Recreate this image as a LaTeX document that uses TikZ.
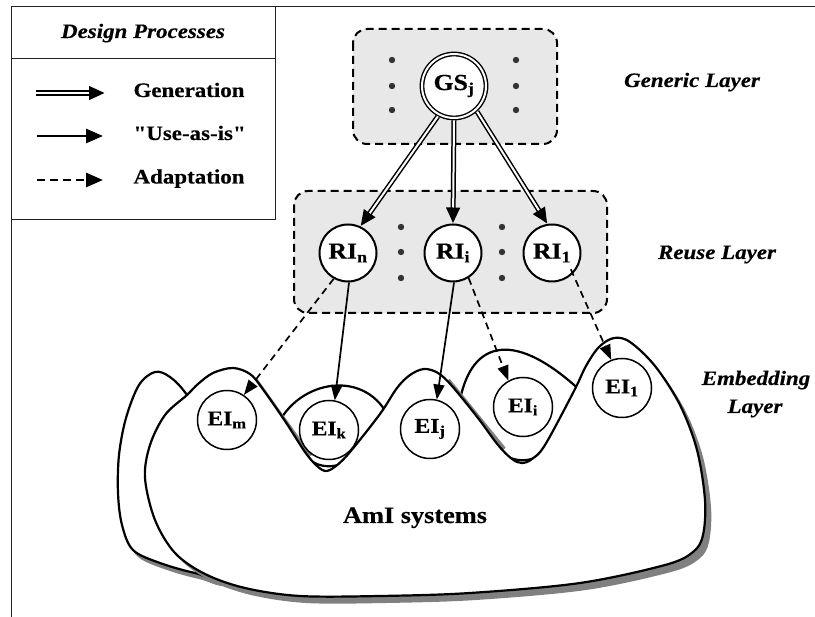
\documentclass[tikz,border=0pt]{standalone}
\usepackage{fontspec}
\setmainfont{Liberation Serif}[FakeStretch=1.12, BoldFeatures={FakeBold=0.4}, BoldItalicFeatures={FakeBold=0.4}]
\newfontfamily\straightquotes{Liberation Serif}[FakeStretch=1.12, BoldFeatures={FakeBold=0.4}]
\usetikzlibrary{arrows.meta}

\definecolor{boxgray}{HTML}{E8E8E8}
\definecolor{shadowgray}{HTML}{808080}
\definecolor{dotgray}{HTML}{333333}
\definecolor{framegray}{HTML}{222222}

\tikzset{
  frameline/.style={draw=framegray, line width=1pt},
  layerbox/.style={draw=black, fill=boxgray, line width=2pt,
    dash pattern=on 8pt off 5pt, rounded corners=14pt},
  gsnode/.style={circle, draw, fill=white, line width=1.4pt, double,
    double distance=2pt, minimum size=64pt, inner sep=0pt, outer sep=2.4pt,
    font=\bfseries\fontsize{23}{25}\selectfont},
  rinode/.style={circle, draw, fill=white, line width=2pt, minimum size=57pt,
    inner sep=0pt, font=\bfseries\fontsize{23}{25}\selectfont},
  einode/.style={circle, draw, fill=white, line width=1.5pt, minimum size=59pt,
    inner sep=0pt, font=\bfseries\fontsize{21}{23}\selectfont},
  layerlabel/.style={font=\bfseries\itshape\fontsize{20.5}{23}\selectfont, anchor=base},
  legendtext/.style={font=\bfseries\fontsize{20.5}{23}\selectfont, anchor=base west},
  blob/.style={fill=white, draw=black, line width=2.2pt, line join=round},
  usearrow/.style={line width=1.7pt, -{Triangle[length=15pt,width=11pt]}},
  adaptarrow/.style={usearrow, dash pattern=on 7pt off 5pt},
  legenduse/.style={line width=2.8pt, -{Triangle[length=17pt,width=14pt]}},
  legendadapt/.style={legenduse, dash pattern=on 8pt off 5pt},
  dot/.style={fill=dotgray},
}

% double-lined "generation" arrow: black body with a white core
\newcommand\genarrow[3][5pt]{%
  \draw[line width=#1, -{Triangle[length=16pt,width=13pt]}] (#2) -- (#3);
  \draw[white, line width=2pt, shorten >=16pt] (#2) -- (#3);
}

\newcommand\frontblobpath{plot[smooth cycle, tension=0.55] coordinates {
  (187,395) (198,384) (213,373) (233,368) (250,374) (262,388) (285,421)
  (305,452) (317,466) (326,471) (336,466) (350,452) (380,414) (397,388)
  (410,375) (424,369) (438,373) (452,386) (478,418) (498,445) (512,459)
  (522,463) (532,459) (545,445) (574,391) (586,366) (599,347) (614,338)
  (630,342) (655,366) (680,405) (697,450) (705,500) (703,535) (693,552)
  (665,565) (580,583) (470,593) (380,596) (300,596) (245,588) (205,574)
  (175,553) (155,520) (145,478) (150,445) (165,415)}}

\newcommand\backblobpath{plot[smooth cycle, tension=0.55] coordinates {
  (155,372) (170,377) (187,395) (215,440) (222,520) (225,577) (195,573)
  (160,563) (133,550) (122,525) (118,493) (119,455) (126,418) (139,385)}}

\begin{document}
\begin{tikzpicture}[x=1pt,y=-1pt]
\useasboundingbox (0,0) rectangle (815,617);

% outer frame and legend
\draw[frameline] (11,617) -- (11,7) -- (815,7);
\draw[frameline] (11,7) rectangle (275,220);
\draw[frameline] (11,59) -- (275,59);
\node[font=\bfseries\itshape\fontsize{20.5}{23}\selectfont, anchor=base] (lgtitle) at (143,38) {Design Processes};

\coordinate (lgA) at (36,93);   \coordinate (lgB) at (105,93);
\coordinate (lgC) at (37,136);  \coordinate (lgD) at (103,136);
\coordinate (lgE) at (37,180);  \coordinate (lgF) at (103,180);
\genarrow[5.5pt]{lgA}{lgB}
\draw[legenduse] (lgC) -- (lgD);
\draw[legendadapt] (lgE) -- (lgF);
\node[legendtext] (lggen) at (130,97) {Generation};
\node[legendtext] (lguse) at (130,140) {\straightquotes "Use-as-is"};
\node[legendtext] (lgadapt) at (130,183.5) {Adaptation};

% layer boxes
\draw[layerbox] (353,29) rectangle (557,144);
\draw[layerbox] (294,191) rectangle (607,313);
\foreach \yy in {60,86,110} {
  \fill[dot] (392,\yy) circle[radius=3.2pt];
  \fill[dot] (516,\yy) circle[radius=3.2pt];
}
\foreach \yy in {227,252,278} {
  \fill[dot] (401,\yy) circle[radius=3.2pt];
  \fill[dot] (502,\yy) circle[radius=3.2pt];
}

% layer labels
\node[layerlabel] (lgeneric) at (692,87) {Generic Layer};
\node[layerlabel] (lreuse) at (717,259) {Reuse Layer};
\node[layerlabel] (lembed) at (756,385) {Embedding};
\node[layerlabel] (lembed2) at (755,413) {Layer};

% AmI systems: back blob, cups and front blob with drop shadows
\begin{scope}[shift={(4,6)}]
  \fill[shadowgray] \backblobpath;
\end{scope}
\path[blob] \backblobpath;

\path[blob] (276,428) .. controls (298,378) and (368,368) .. (390,420)
  -- (345,462) .. controls (335,468) and (320,468) .. (310,460) -- cycle;
\path[blob] (460,400) .. controls (472,340) and (515,328) .. (585,395)
  -- (540,455) .. controls (530,462) and (515,462) .. (505,455) -- cycle;

\begin{scope}[shift={(6,7)}]
  \fill[shadowgray] \frontblobpath;
\end{scope}
\draw[shadowgray, line width=7pt] (254,380) -- (309,457);
\draw[shadowgray, line width=7pt] (447,381) -- (503,450);
\path[blob] \frontblobpath;

\node[font=\bfseries\fontsize{23.5}{27}\selectfont, anchor=base] (ami) at (415,523) {AmI systems};

% instance nodes
\node[gsnode] (GS) at (454,86) {GS\textsubscript{j}};
\node[rinode] (RIn) at (348,253) {RI\textsubscript{n}};
\node[rinode] (RIi) at (453,253) {RI\textsubscript{i}};
\node[rinode] (RI1) at (552,253) {RI\textsubscript{1}};
\node[einode] (EIm) at (227,420) {EI\textsubscript{m}};
\node[einode] (EIk) at (329,430) {EI\textsubscript{k}};
\node[einode] (EIj) at (430,429) {EI\textsubscript{j}};
\node[einode] (EIi) at (523,407) {EI\textsubscript{i}};
\node[einode] (EI1) at (622,388) {EI\textsubscript{1}};

% generation
\genarrow{GS.-118}{RIn.65}
\genarrow{GS.-90}{RIi.north}
\genarrow{GS.-48}{RI1.99}

% use-as-is
\draw[usearrow] (RIn.-88) -- (EIk.79);
\draw[usearrow] (RIi.-88) -- (EIj.77);

% adaptation
\draw[adaptarrow] (RIn.-119) -- (EIm.56);
\draw[adaptarrow] (RIi.-58) -- (EIi.119);
\draw[adaptarrow, shorten <=-5pt] (RI1.-45) -- (EI1.111);
\end{tikzpicture}
\end{document}
